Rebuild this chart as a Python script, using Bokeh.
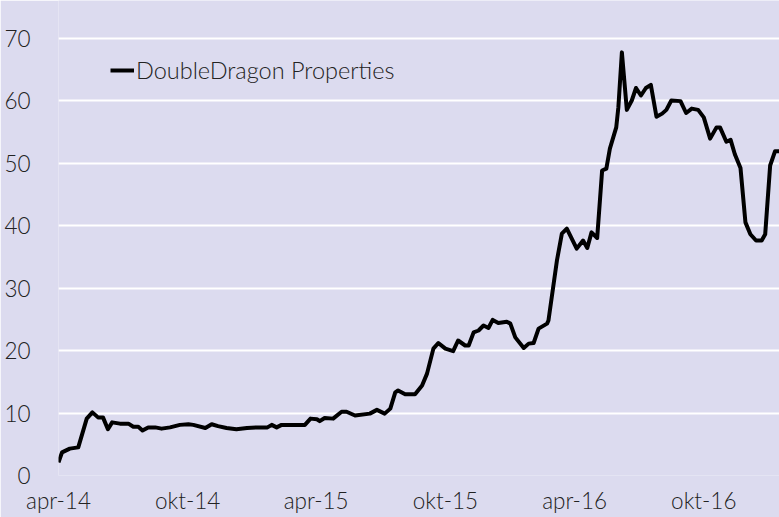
from datetime import datetime
import pandas as pd
from bokeh.plotting import figure
from bokeh.models import Range1d, FixedTicker, Legend, LegendItem, ColumnDataSource
from bokeh.embed import file_html
from bokeh.resources import INLINE

# ---- data ----
series_name = "DoubleDragon Properties"
dates = [
    "2014-04-01", "2014-04-06", "2014-04-17", "2014-04-29", "2014-05-11", "2014-05-19",
    "2014-05-27", "2014-06-03", "2014-06-10", "2014-06-16", "2014-06-27", "2014-07-09",
    "2014-07-16", "2014-07-23", "2014-07-29", "2014-08-06", "2014-08-16", "2014-08-25",
    "2014-09-06", "2014-09-20", "2014-10-02", "2014-10-09", "2014-10-26", "2014-11-04",
    "2014-11-13", "2014-11-25", "2014-12-09", "2014-12-24", "2015-01-07", "2015-01-22",
    "2015-01-28", "2015-02-04", "2015-02-11", "2015-02-28", "2015-03-16", "2015-03-24",
    "2015-04-02", "2015-04-06", "2015-04-13", "2015-04-25", "2015-05-07", "2015-05-14",
    "2015-05-26", "2015-06-16", "2015-06-26", "2015-07-07", "2015-07-15", "2015-07-22",
    "2015-07-26", "2015-08-05", "2015-08-19", "2015-08-29", "2015-09-05", "2015-09-14",
    "2015-09-21", "2015-10-01", "2015-10-12", "2015-10-19", "2015-10-29", "2015-11-03",
    "2015-11-10", "2015-11-17", "2015-11-24", "2015-12-01", "2015-12-07", "2015-12-15",
    "2015-12-27", "2016-01-01", "2016-01-08", "2016-01-20", "2016-01-27", "2016-02-03",
    "2016-02-10", "2016-02-22", "2016-02-24", "2016-03-07", "2016-03-14", "2016-03-21",
    "2016-04-04", "2016-04-13", "2016-04-19", "2016-04-25", "2016-05-03", "2016-05-10",
    "2016-05-16", "2016-05-21", "2016-05-30", "2016-06-02", "2016-06-07", "2016-06-14",
    "2016-06-21", "2016-06-27", "2016-07-04", "2016-07-11", "2016-07-18", "2016-07-26",
    "2016-08-03", "2016-08-09", "2016-08-16", "2016-08-29", "2016-09-06", "2016-09-14",
    "2016-09-23", "2016-10-01", "2016-10-10", "2016-10-19", "2016-10-24", "2016-11-02",
    "2016-11-08", "2016-11-14", "2016-11-22", "2016-11-29", "2016-12-06", "2016-12-14",
    "2016-12-22", "2016-12-27", "2017-01-03", "2017-01-10", "2017-01-16",
]
prices = [
    2.1, 3.7, 4.3, 4.5, 9.1, 10.1,
    9.3, 9.3, 7.4, 8.5, 8.3, 8.3,
    7.8, 7.8, 7.2, 7.7, 7.7, 7.5,
    7.7, 8.1, 8.2, 8.1, 7.6, 8.2,
    7.9, 7.6, 7.4, 7.6, 7.7, 7.7,
    8.1, 7.7, 8.1, 8.1, 8.1, 9.1,
    9.0, 8.7, 9.2, 9.1, 10.2, 10.2,
    9.6, 9.9, 10.5, 9.9, 10.7, 13.3,
    13.6, 13.0, 13.0, 14.4, 16.3, 20.3,
    21.2, 20.3, 19.9, 21.6, 20.8, 20.8,
    22.9, 23.2, 24.0, 23.6, 24.9, 24.4,
    24.6, 24.3, 22.1, 20.4, 21.1, 21.2,
    23.5, 24.3, 24.8, 34.4, 38.7, 39.5,
    36.3, 37.6, 36.4, 38.9, 38.0, 48.8,
    49.1, 52.3, 55.7, 58.9, 67.7, 58.5,
    60.0, 62.0, 60.8, 62.0, 62.5, 57.4,
    57.9, 58.5, 60.0, 59.9, 58.0, 58.7,
    58.5, 57.3, 53.9, 55.7, 55.7, 53.4,
    53.7, 51.4, 49.2, 40.5, 38.6, 37.6,
    37.6, 38.6, 49.6, 51.9, 51.9,
]
tick_dates = ["2014-04-01", "2014-10-01", "2015-04-01", "2015-10-01", "2016-04-01", "2016-10-01"]
tick_labels = ["apr-14", "okt-14", "apr-15", "okt-15", "apr-16", "okt-16"]
y_ticks = [0, 10, 20, 30, 40, 50, 60, 70]

# ---- styling ----
BG = "#DCDBEF"
TXT = "#222222"
FONT = "Lato Light, Lato"

src = ColumnDataSource(dict(date=pd.to_datetime(dates), price=prices))

p = figure(
    width=779, height=517,
    x_axis_type="datetime",
    x_range=Range1d(datetime(2014, 4, 1), datetime(2017, 1, 16, 6)),
    y_range=Range1d(0, 76.0),
    output_backend="svg", toolbar_location=None,
    min_border_left=58, min_border_right=0, min_border_top=0, min_border_bottom=42,
)
p.background_fill_color = BG
p.border_fill_color = BG
p.outline_line_color = None

r = p.line("date", "price", source=src, line_color="black", line_width=4, line_join="round")

tick_ms = [pd.Timestamp(d).timestamp() * 1000.0 for d in tick_dates]
p.xaxis.ticker = FixedTicker(ticks=tick_ms)
p.xaxis.major_label_overrides = {t: lab for t, lab in zip(tick_ms, tick_labels)}
p.yaxis.ticker = FixedTicker(ticks=y_ticks)

for ax in (p.xaxis, p.yaxis):
    ax.axis_line_color = None
    ax.major_tick_line_color = None
    ax.minor_tick_line_color = None
    ax.major_label_text_font = FONT
    ax.major_label_text_font_size = "22.5px"
    ax.major_label_text_color = TXT
p.yaxis.major_label_standoff = 22
p.xaxis.major_label_standoff = 5

p.xgrid.visible = False
p.ygrid.grid_line_color = "white"
p.ygrid.grid_line_width = 2

legend = Legend(
    items=[LegendItem(label=series_name, renderers=[r])],
    location=(52, 391),
    padding=0, margin=0, spacing=0,
    glyph_width=24, glyph_height=20, label_standoff=2,
    border_line_color=None, background_fill_alpha=0,
    label_text_font=FONT, label_text_font_size="23.5px", label_text_color=TXT,
)
p.add_layout(legend)

open("out.html", "w").write(file_html(p, INLINE))
